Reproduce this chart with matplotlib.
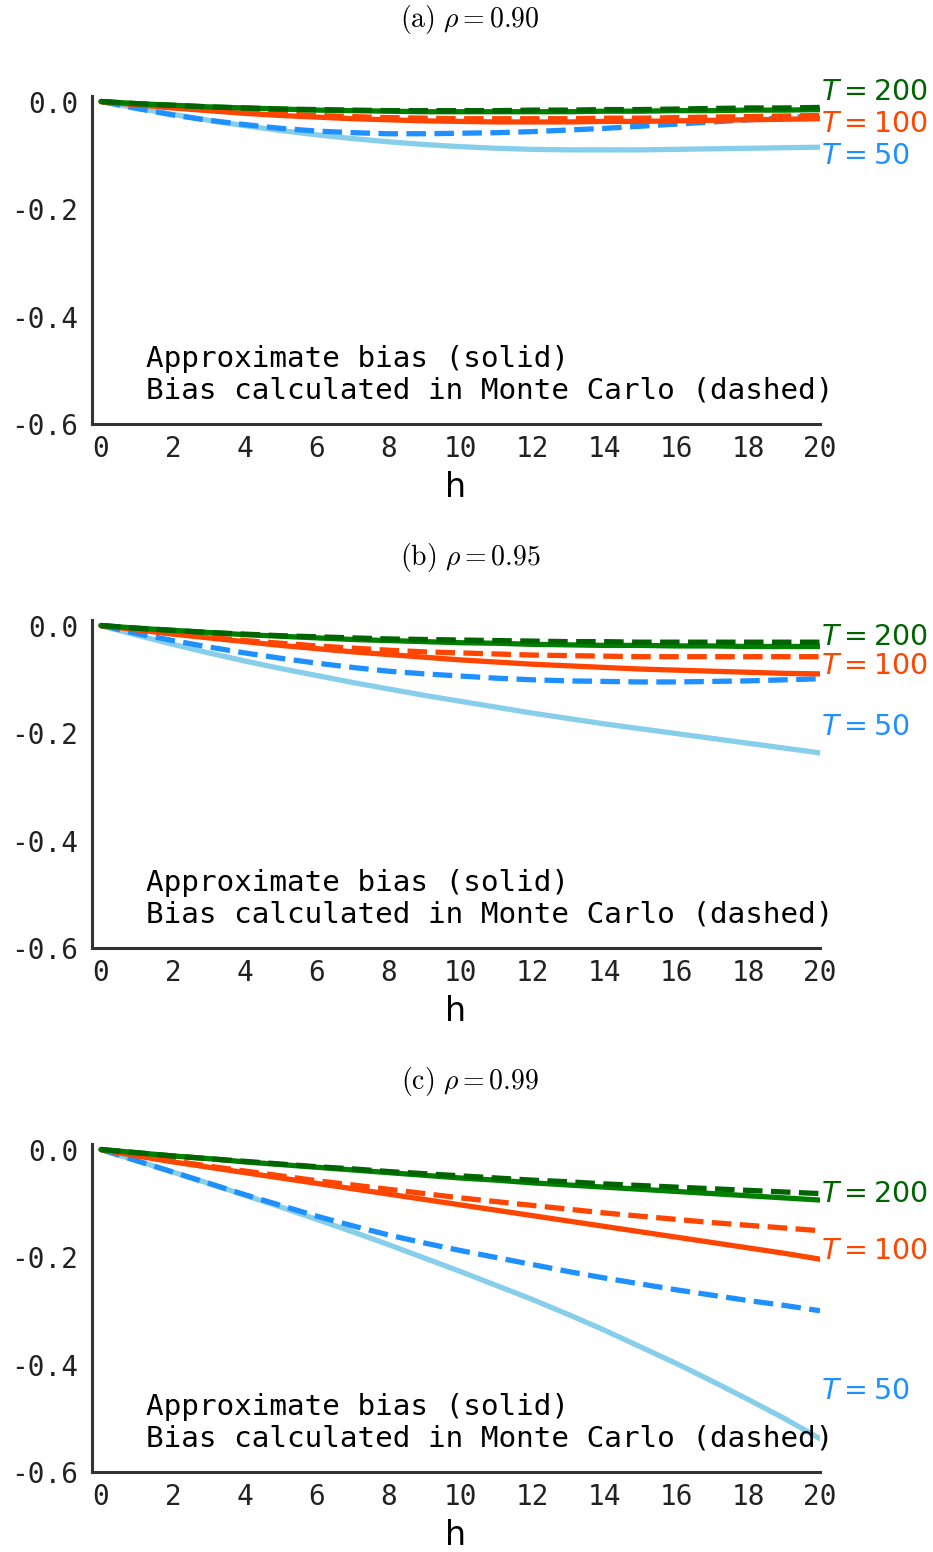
import numpy as np
import matplotlib
matplotlib.use("Agg")
import matplotlib.pyplot as plt

plt.rcParams['axes.unicode_minus'] = False
plt.rcParams['font.family'] = ['DejaVu Sans Mono']

h = np.arange(21)

# approximate bias (solid) and monte carlo bias (dashed), rho = 0.90
a_t50 = [0, -0.012, -0.024, -0.035, -0.045, -0.054, -0.062, -0.069, -0.075, -0.080, -0.084,
         -0.087, -0.089, -0.090, -0.090, -0.090, -0.089, -0.088, -0.087, -0.086, -0.085]
a_t50_mc = [0, -0.013, -0.025, -0.035, -0.043, -0.050, -0.055, -0.058, -0.060, -0.060, -0.059,
            -0.058, -0.056, -0.053, -0.050, -0.046, -0.042, -0.038, -0.034, -0.030, -0.027]
a_t100 = [0, -0.006, -0.012, -0.017, -0.022, -0.026, -0.029, -0.032, -0.034, -0.036, -0.037,
          -0.038, -0.038, -0.038, -0.037, -0.037, -0.036, -0.035, -0.034, -0.033, -0.032]
a_t100_mc = [0, -0.006, -0.011, -0.016, -0.020, -0.023, -0.026, -0.028, -0.030, -0.031, -0.032,
             -0.032, -0.032, -0.032, -0.031, -0.031, -0.030, -0.029, -0.028, -0.027, -0.026]
a_t200 = [0, -0.004, -0.007, -0.010, -0.012, -0.014, -0.016, -0.017, -0.018, -0.019, -0.019,
          -0.019, -0.019, -0.019, -0.018, -0.018, -0.017, -0.017, -0.016, -0.016, -0.015]
a_t200_mc = [0, -0.004, -0.007, -0.010, -0.012, -0.014, -0.015, -0.016, -0.017, -0.017, -0.017,
             -0.017, -0.016, -0.016, -0.015, -0.015, -0.014, -0.013, -0.012, -0.012, -0.011]

# rho = 0.95
b_t50 = [0, -0.018, -0.035, -0.051, -0.066, -0.080, -0.093, -0.106, -0.118, -0.130, -0.141,
         -0.152, -0.163, -0.173, -0.183, -0.192, -0.201, -0.210, -0.219, -0.228, -0.237]
b_t50_mc = [0, -0.015, -0.028, -0.040, -0.051, -0.061, -0.070, -0.078, -0.085, -0.090, -0.094,
            -0.098, -0.101, -0.103, -0.104, -0.105, -0.105, -0.104, -0.103, -0.101, -0.099]
b_t100 = [0, -0.008, -0.016, -0.023, -0.030, -0.037, -0.043, -0.049, -0.054, -0.059, -0.064,
          -0.068, -0.072, -0.075, -0.078, -0.081, -0.083, -0.085, -0.087, -0.089, -0.090]
b_t100_mc = [0, -0.008, -0.015, -0.022, -0.028, -0.033, -0.038, -0.042, -0.046, -0.049, -0.051,
             -0.053, -0.055, -0.056, -0.057, -0.058, -0.058, -0.058, -0.058, -0.058, -0.058]
b_t200 = [0, -0.005, -0.009, -0.013, -0.017, -0.020, -0.023, -0.026, -0.028, -0.030, -0.032,
          -0.033, -0.035, -0.036, -0.037, -0.037, -0.038, -0.038, -0.039, -0.039, -0.039]
b_t200_mc = [0, -0.005, -0.009, -0.013, -0.016, -0.019, -0.021, -0.023, -0.025, -0.026, -0.027,
             -0.028, -0.029, -0.030, -0.030, -0.031, -0.031, -0.031, -0.031, -0.031, -0.031]

# rho = 0.99
c_t50 = [0, -0.021, -0.042, -0.063, -0.085, -0.107, -0.130, -0.153, -0.177, -0.202, -0.227,
         -0.253, -0.279, -0.307, -0.336, -0.367, -0.398, -0.431, -0.465, -0.500, -0.538]
c_t50_mc = [0, -0.021, -0.042, -0.063, -0.084, -0.104, -0.124, -0.142, -0.159, -0.174, -0.188,
            -0.201, -0.214, -0.227, -0.239, -0.250, -0.261, -0.271, -0.281, -0.290, -0.300]
c_t100 = [0, -0.012, -0.023, -0.033, -0.043, -0.053, -0.063, -0.073, -0.083, -0.093, -0.103,
          -0.113, -0.123, -0.133, -0.143, -0.153, -0.163, -0.173, -0.183, -0.193, -0.204]
c_t100_mc = [0, -0.011, -0.021, -0.031, -0.040, -0.049, -0.058, -0.066, -0.074, -0.082, -0.090,
             -0.097, -0.104, -0.111, -0.118, -0.124, -0.130, -0.136, -0.141, -0.146, -0.151]
c_t200 = [0, -0.006, -0.012, -0.017, -0.023, -0.028, -0.033, -0.038, -0.043, -0.048, -0.053,
          -0.057, -0.062, -0.066, -0.070, -0.074, -0.078, -0.082, -0.086, -0.090, -0.094]
c_t200_mc = [0, -0.006, -0.012, -0.017, -0.022, -0.027, -0.032, -0.036, -0.041, -0.045, -0.049,
             -0.053, -0.057, -0.060, -0.064, -0.067, -0.070, -0.073, -0.076, -0.079, -0.082]

titles = [r"$\mathrm{(a)}\ \rho = 0.90$", r"$\mathrm{(b)}\ \rho = 0.95$",
          r"$\mathrm{(c)}\ \rho = 0.99$"]
sample_sizes = [50, 100, 200]
yticks = [0.0, -0.2, -0.4, -0.6]
xticks = [0, 2, 4, 6, 8, 10, 12, 14, 16, 18, 20]

panels = [
    [(a_t50, a_t50_mc), (a_t100, a_t100_mc), (a_t200, a_t200_mc)],
    [(b_t50, b_t50_mc), (b_t100, b_t100_mc), (b_t200, b_t200_mc)],
    [(c_t50, c_t50_mc), (c_t100, c_t100_mc), (c_t200, c_t200_mc)],
]

# colours per T: (solid, dashed, label)
colours = {50: ('skyblue', 'dodgerblue', 'dodgerblue'),
           100: ('orangered', 'orangered', 'orangered'),
           200: ('green', 'darkgreen', 'darkgreen')}

# where the T labels sit so they don't collide
label_y = [[-0.102, -0.041, 0.018],
           [-0.189, -0.075, -0.021],
           [-0.450, -0.188, -0.083]]

fig = plt.figure(figsize=(9.33, 15.52), dpi=100)
W, H = 933., 1552.
bottoms = [424, 948, 1472]
title_y = [20, 557, 1081]
ax_h = 328.4

for i, series in enumerate(panels):
    ax = fig.add_axes([92 / W, 1 - bottoms[i] / H, 728 / W, ax_h / H])
    for T, (solid, mc) in zip(sample_sizes, series):
        cs, cd, cl = colours[T]
        ax.plot(h, solid, color=cs, lw=3.8, solid_capstyle='round')
        ax.plot(h, mc, color=cd, lw=3.8, ls='--')
    for T, (solid, mc), ly in zip(sample_sizes, series, label_y[i]):
        ax.annotate(r"$T = %d$" % T, xy=(20, ly), xytext=(1, 0), textcoords='offset points',
                    color=colours[T][2], fontsize=20.5, va='center', ha='left',
                    family='DejaVu Sans', annotation_clip=False)
    ax.set_xlim(-0.25, 20)
    ax.set_ylim(-0.6, 0.011)
    ax.set_xticks(xticks)
    ax.set_yticks(yticks)
    ax.set_yticklabels(['%.1f' % v for v in yticks])
    ax.tick_params(length=0, labelsize=20, colors='#222222')
    ax.tick_params(axis='x', pad=8)
    ax.tick_params(axis='y', pad=10)
    for s in ['top', 'right']:
        ax.spines[s].set_visible(False)
    for s in ['left', 'bottom']:
        ax.spines[s].set_linewidth(2.2)
        ax.spines[s].set_color('#333333')
    ax.set_xlabel('h', fontsize=24, family='DejaVu Sans', labelpad=6)
    ax.text(0.074, 0.06, "Approximate bias (solid)\nBias calculated in Monte Carlo (dashed)",
            transform=ax.transAxes, fontsize=21.2, va='bottom', ha='left', linespacing=1.15)
    fig.text(470 / W, 1 - title_y[i] / H, titles[i], fontsize=20, ha='center', va='center',
             math_fontfamily='cm')

fig.savefig('out.png', dpi=100, facecolor='white')
